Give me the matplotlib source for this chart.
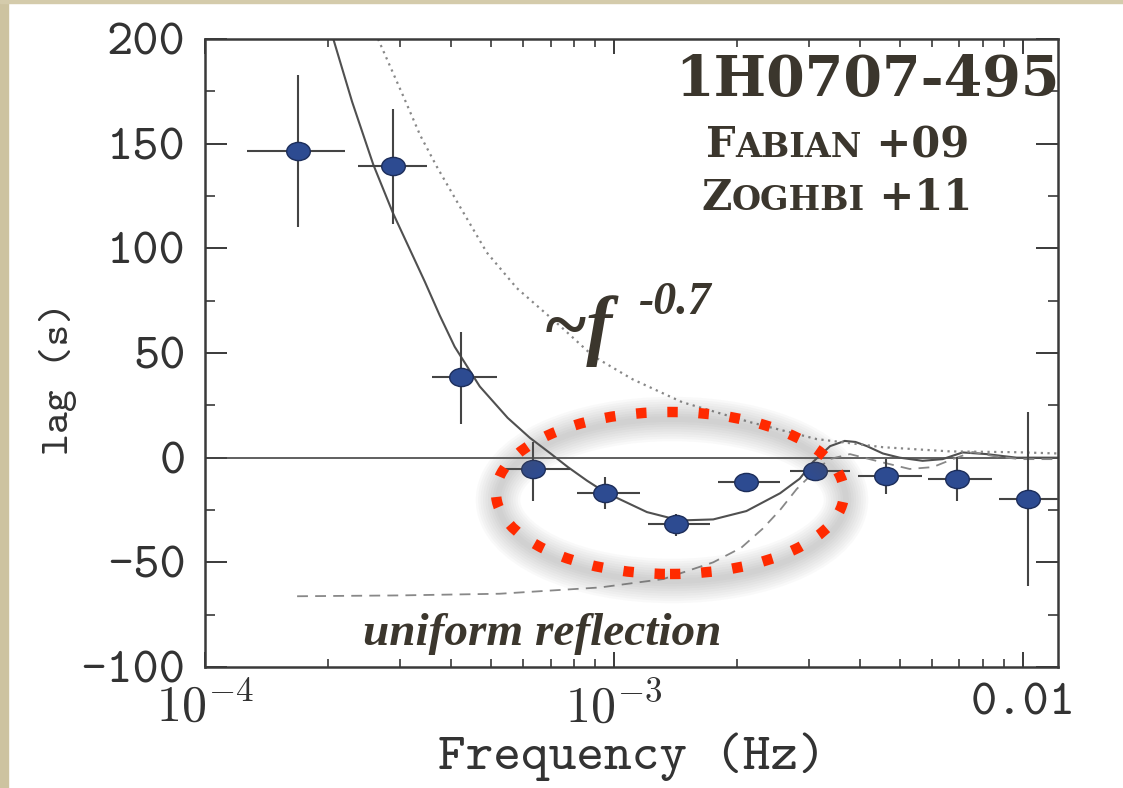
import matplotlib.pyplot as plt
import numpy as np
from matplotlib.patches import Ellipse, Rectangle
from matplotlib.path import Path
from matplotlib.transforms import Affine2D
from matplotlib.ticker import FixedLocator, FixedFormatter, LogLocator, MultipleLocator, NullFormatter

# typewriter-style labels like the original figure
plt.rcParams['font.family'] = ['cmtt10', 'DejaVu Sans Mono']
plt.rcParams['axes.unicode_minus'] = False
plt.rcParams['mathtext.fontset'] = 'cm'

# ===== DATA =====
# lag-frequency points
freq = [1.69e-4, 2.88e-4, 4.23e-4, 6.34e-4, 9.5e-4, 1.42e-3, 2.11e-3, 3.1e-3, 4.62e-3, 6.9e-3, 1.03e-2]
freq_lo = [1.27e-4, 2.37e-4, 3.59e-4, 5.42e-4, 8.12e-4, 1.21e-3, 1.80e-3, 2.69e-3, 3.95e-3, 5.86e-3, 8.74e-3]
freq_hi = [2.20e-4, 3.49e-4, 5.17e-4, 7.80e-4, 1.16e-3, 1.72e-3, 2.55e-3, 3.78e-3, 5.66e-3, 8.40e-3, 1.25e-2]
lag = [146.5, 139.3, 38.5, -5.4, -16.9, -31.7, -11.7, -6.4, -8.8, -10.2, -19.8]
lag_lo = [110, 111.6, 16, -20.7, -24.6, -37.5, -15.5, -10, -17.4, -20.7, -61.4]
lag_hi = [182.8, 166.5, 60, 7.5, -9.4, -27, -8, -2.5, -0.7, 0.3, 21.8]

# full model (solid)
model_f = [2.06e-4, 2.29e-4, 2.58e-4, 2.88e-4, 3.45e-4, 3.75e-4, 4.08e-4, 4.70e-4, 5.5e-4, 6.23e-4,
           7.0e-4, 7.72e-4, 8.6e-4, 9.51e-4, 1.205e-3, 1.45e-3, 1.75e-3, 2.11e-3, 2.55e-3, 2.85e-3,
           3.07e-3, 3.38e-3, 3.67e-3, 3.9e-3, 4.16e-3, 4.55e-3, 5.0e-3, 5.69e-3, 6.37e-3, 7.13e-3,
           8.16e-3, 9.66e-3, 1.22e-2]
model_lag = [200, 170, 140, 117, 84, 68, 53, 34, 19, 9.5,
             2, -4.5, -11, -16.5, -26, -30, -29.5, -25.5, -17, -10,
             -2, 5.5, 8, 7.5, 5.5, 2, 0, -1.5, -0.7, 2.5,
             1.7, 0, 0]

# power-law component (dotted)
powlaw_f = [2.65e-4, 3.05e-4, 3.36e-4, 3.69e-4, 4.20e-4, 4.89e-4, 5.79e-4, 7.38e-4, 8.89e-4,
            1.11e-3, 1.47e-3, 2.15e-3, 3.13e-3, 4.55e-3, 6.63e-3, 9.67e-3, 1.22e-2]
powlaw_lag = [200, 173, 154, 139, 120, 98, 81, 63, 48.6, 37.5, 26.5, 17, 8.9, 5, 3, 2.6, 2]

# uniform reflection component (dashed)
refl_f = [1.68e-4, 3.0e-4, 5.26e-4, 9.25e-4, 1.32e-3, 1.75e-3, 2.05e-3, 2.31e-3, 2.55e-3, 2.80e-3,
          3.1e-3, 3.37e-3, 3.78e-3, 4.40e-3, 5.29e-3, 6.03e-3, 6.74e-3, 7.55e-3, 8.45e-3, 9.84e-3,
          1.22e-2]
refl_lag = [-66.2, -65.8, -65, -62, -58, -50, -43, -34, -25, -15,
            -6.5, -0.7, 1.7, -1.6, -5.4, -4.5, -0.7, 2.7, 0.8, -0.7,
            -0.7]

xtick_pos = [1e-4, 1e-3, 1e-2]
xtick_labels = [r'$\mathtt{10}^{-4}$', r'$\mathtt{10}^{-3}$', '0.01']

W, H = 1123, 788
def fx(px):
    return px / W
def fy(py):
    return 1 - py / H

ink = '#3b362d'
axis_col = '#3a3a3a'
label_col = '#333333'

# ===== FIGURE =====
fig = plt.figure(figsize=(W / 100, H / 100), dpi=100)
fig.patch.set_facecolor('white')
fig.patches.append(Rectangle((0, 0), fx(8), 1, transform=fig.transFigure, color='#cdc3a0', zorder=0))
fig.patches.append(Rectangle((0, fy(3)), 1, 3 / H, transform=fig.transFigure, color='#d4cbab', zorder=0))

ax = fig.add_axes([fx(205), 121 / H, 853 / W, 628 / H])
ax.set_xscale('log')
ax.set_xlim(1e-4, 1.22e-2)
ax.set_ylim(-100, 200)

# curves
ax.axhline(0, color='#444444', lw=1.2, zorder=2)
ax.plot(model_f, model_lag, color='#505050', lw=1.5, zorder=2)
ax.plot(powlaw_f, powlaw_lag, color='#888888', lw=1.6, linestyle=(0, (1, 2)), zorder=2)
ax.plot(refl_f, refl_lag, color='#888888', lw=1.3, linestyle=(0, (6, 4)), zorder=2)

# data points with error bars
freq_a = np.array(freq)
lag_a = np.array(lag)
xerr = [freq_a - np.array(freq_lo), np.array(freq_hi) - freq_a]
yerr = [lag_a - np.array(lag_lo), np.array(lag_hi) - lag_a]
oval = Path.unit_circle().transformed(Affine2D().scale(1.3, 1.0))
ax.errorbar(freq_a, lag_a, xerr=xerr, yerr=yerr, fmt='none', ecolor='#444444',
            elinewidth=1.5, capsize=0, zorder=3)
ax.plot(freq_a, lag_a, linestyle='none', marker=oval, markersize=17,
        markerfacecolor='#2d4b91', markeredgecolor='#1c2d5a', markeredgewidth=1, zorder=4)

# ticks
ax.xaxis.set_major_locator(FixedLocator(xtick_pos))
ax.xaxis.set_major_formatter(FixedFormatter(xtick_labels))
ax.xaxis.set_minor_locator(LogLocator(base=10, subs=np.arange(2, 10), numticks=20))
ax.xaxis.set_minor_formatter(NullFormatter())
ax.yaxis.set_major_locator(MultipleLocator(50))
ax.yaxis.set_minor_locator(MultipleLocator(25))
ax.tick_params(which='both', direction='in', top=True, right=True, color=axis_col,
               labelcolor=label_col, labelsize=36, pad=14)
ax.tick_params(axis='x', which='major', length=11, width=1.4, pad=12)
ax.tick_params(axis='x', which='minor', length=5.5, width=1.2)
ax.tick_params(axis='y', which='major', length=16, width=1.4)
ax.tick_params(axis='y', which='minor', length=7, width=1.2)
for sp in ax.spines.values():
    sp.set_color(axis_col)
    sp.set_linewidth(1.8)

ax.set_xlabel('Frequency (Hz)', fontsize=38, color=label_col)
ax.set_ylabel('lag (s)', fontsize=30, color=label_col)
ax.xaxis.set_label_coords(0.5, -0.105)
ax.yaxis.set_label_coords(-0.15, 0.46)

# ===== ANNOTATIONS =====
fig.text(fx(1060), fy(96), '1H0707-495', ha='right', va='baseline',
         family='DejaVu Serif', weight='bold', size=40, color=ink)

def small_caps(x, y, parts):
    # parts: list of (text, size); chained left to right on one baseline
    prev = fig.text(fx(x), fy(y), parts[0][0], ha='left', va='baseline', family='DejaVu Serif',
                    weight='bold', size=parts[0][1], color=ink)
    prev_size = parts[0][1]
    for txt, size in parts[1:]:
        prev = ax.annotate(txt, xy=(1, 0), xycoords=prev, xytext=(0, 0.23 * (prev_size - size)),
                           textcoords='offset points', ha='left', va='bottom',
                           family='DejaVu Serif', weight='bold', size=size, color=ink,
                           annotation_clip=False)
        prev_size = size
    return prev

small_caps(706, 157, [('F', 30), ('ABIAN', 24), (' +09', 30)])
small_caps(701, 210, [('Z', 30), ('OGHBI', 24), (' +11', 30)])

fig.text(fx(543), fy(350), '~f', ha='left', va='baseline', family='Liberation Serif',
         weight='bold', style='italic', size=56, color=ink)
fig.text(fx(638), fy(314), '-0.7', ha='left', va='baseline', family='Liberation Serif',
         weight='bold', style='italic', size=33, color=ink)
fig.text(fx(542), fy(645), 'uniform reflection', ha='center', va='baseline',
         family='Liberation Serif', weight='bold', style='italic', size=34, color=ink)

# red dotted ellipse with soft shadow
ew, eh = 348 / W, 162 / H
for lw in np.linspace(4, 32, 9):
    fig.patches.append(Ellipse((fx(672), fy(500)), ew, eh, transform=fig.transFigure, fill=False,
                               edgecolor='#666666', lw=lw, alpha=0.035, zorder=5))
fig.patches.append(Ellipse((fx(670), fy(493)), ew, eh, transform=fig.transFigure, fill=False,
                           edgecolor='#ff2a00', lw=7.5, linestyle=(0, (1, 2)),
                           capstyle='butt', zorder=6))

plt.savefig('out.png', dpi=100)
